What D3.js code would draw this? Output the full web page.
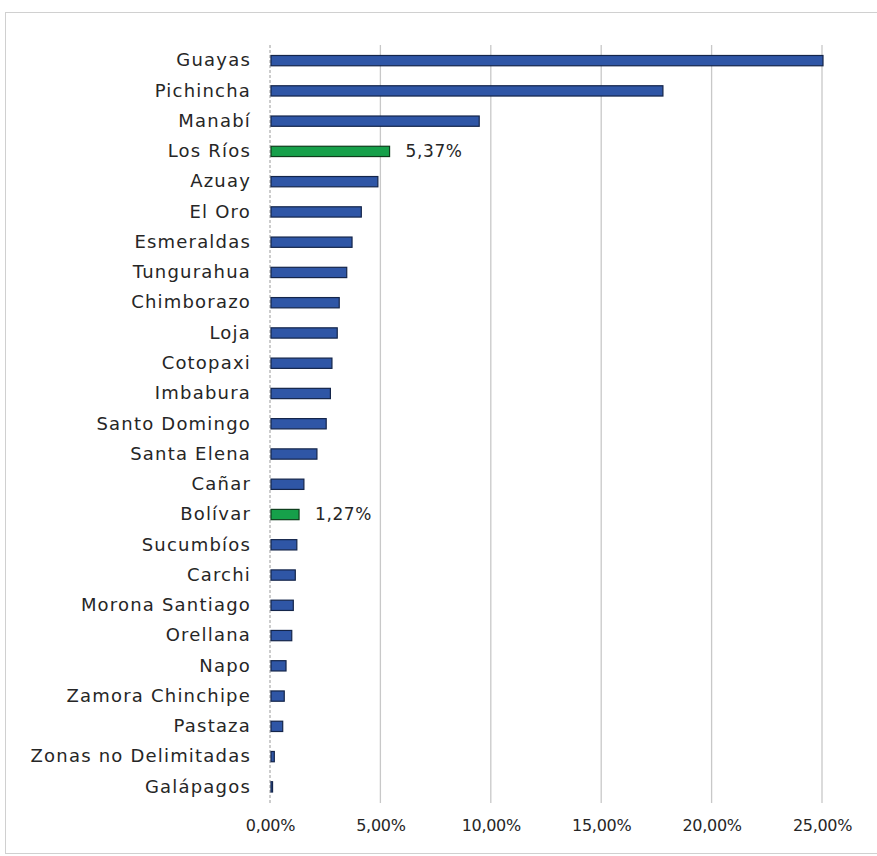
<!DOCTYPE html>
<html>
<head>
<meta charset="utf-8">
<script src="https://cdn.jsdelivr.net/npm/d3@7"></script>
<style>
  html, body { margin: 0; padding: 0; background: #fff; }
  svg { display: block; }
  text { font-family: "DejaVu Sans", "Noto Sans", sans-serif; fill: #262626; }
</style>
</head>
<body>
<svg id="chart" width="877" height="856"></svg>
<script>
// Share of total by province (%)
const provinces = [
  "Guayas", "Pichincha", "Manabí", "Los Ríos", "Azuay", "El Oro", "Esmeraldas",
  "Tungurahua", "Chimborazo", "Loja", "Cotopaxi", "Imbabura", "Santo Domingo",
  "Santa Elena", "Cañar", "Bolívar", "Sucumbíos", "Carchi", "Morona Santiago",
  "Orellana", "Napo", "Zamora Chinchipe", "Pastaza", "Zonas no Delimitadas", "Galápagos"
];
const shares = [
  25.00, 17.75, 9.43, 5.37, 4.84, 4.09, 3.67,
  3.43, 3.09, 3.00, 2.76, 2.69, 2.50,
  2.08, 1.49, 1.27, 1.17, 1.10, 1.01,
  0.94, 0.68, 0.60, 0.53, 0.15, 0.07
];
// Provinces shown highlighted with their value
const highlighted = ["Los Ríos", "Bolívar"];
const xTicks = [0, 5, 10, 15, 20, 25];

const data = provinces.map((p, i) => ({ name: p, value: shares[i] }));
const fmt = v => d3.format(".2f")(v).replace(".", ",") + "%";

const svg = d3.select("#chart");

// outer frame
svg.append("rect")
  .attr("x", 5.5).attr("y", 12.5)
  .attr("width", 880).attr("height", 841)
  .attr("fill", "#fff").attr("stroke", "#d0d0d0").attr("stroke-width", 1);

const plot = { left: 270, right: 822, top: 45, bottom: 803 };

const x = d3.scaleLinear().domain([0, 25]).range([plot.left, plot.right]);
const y = d3.scaleBand()
  .domain(provinces)
  .range([plot.top + 0.5, plot.bottom - 1])
  .paddingInner(0.66)
  .paddingOuter(0.33);

// vertical gridlines
svg.append("g")
  .selectAll("line")
  .data(xTicks.filter(t => t > 0))
  .join("line")
  .attr("x1", d => x(d)).attr("x2", d => x(d))
  .attr("y1", plot.top).attr("y2", plot.bottom)
  .attr("stroke", "#c8c8c8").attr("stroke-width", 1.3);

// category axis line
svg.append("line")
  .attr("x1", x(0)).attr("x2", x(0))
  .attr("y1", plot.top).attr("y2", plot.bottom)
  .attr("stroke", "#9a9a9a").attr("stroke-width", 1)
  .attr("stroke-dasharray", "3,2");

// bars
svg.append("g")
  .selectAll("rect")
  .data(data)
  .join("rect")
  .attr("x", x(0) + 1)
  .attr("y", d => y(d.name))
  .attr("width", d => Math.max(1, x(d.value) - x(0)))
  .attr("height", y.bandwidth())
  .attr("fill", d => highlighted.includes(d.name) ? "#16a04a" : "#2f56a6")
  .attr("stroke", d => highlighted.includes(d.name) ? "#0e3d1c" : "#14254a")
  .attr("stroke-width", 1.2);

// value labels for highlighted bars
svg.append("g")
  .selectAll("text")
  .data(data.filter(d => highlighted.includes(d.name)))
  .join("text")
  .attr("x", d => x(d.value) + 17)
  .attr("y", d => y(d.name) + y.bandwidth() / 2)
  .attr("dy", "0.35em")
  .attr("font-size", 17)
  .attr("letter-spacing", 0.6)
  .text(d => fmt(d.value));

// category labels
const yAxis = d3.axisLeft(y).tickSize(0).tickPadding(19);
svg.append("g")
  .attr("transform", `translate(${x(0)},0)`)
  .call(yAxis)
  .call(g => g.select(".domain").remove())
  .call(g => g.selectAll("text")
    .attr("font-size", 18)
    .attr("letter-spacing", 1.2)
    .style("font-family", "'DejaVu Sans', sans-serif")
    .attr("fill", "#262626"));

// value axis at the bottom
const xAxis = d3.axisBottom(x).tickValues(xTicks).tickSize(0).tickPadding(17)
  .tickFormat(fmt);
svg.append("g")
  .attr("transform", `translate(0,${plot.bottom})`)
  .call(xAxis)
  .call(g => g.select(".domain").remove())
  .call(g => g.selectAll("text")
    .attr("font-size", 16)
    .attr("letter-spacing", -0.3)
    .style("font-family", "'DejaVu Sans', sans-serif")
    .attr("fill", "#262626"));
</script>
</body>
</html>
